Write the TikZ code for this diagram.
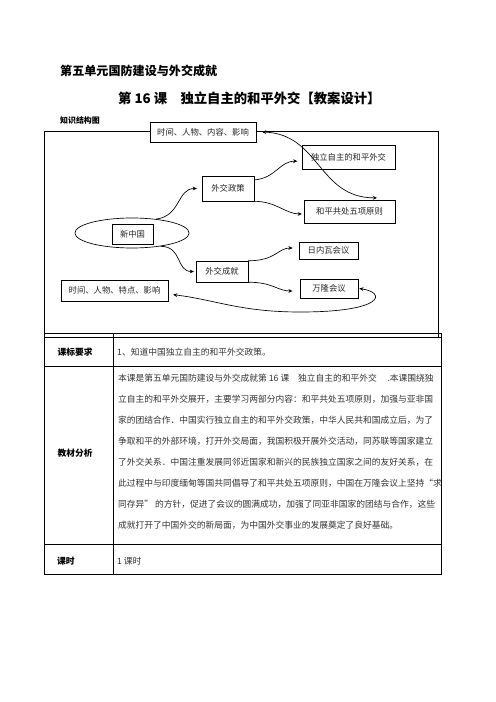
\documentclass[tikz,border=0pt]{standalone}
\usepackage{fontspec}
\setmainfont{Noto Sans CJK SC}
\usetikzlibrary{shapes.geometric,% ellipse round 新中国
arrows.meta}
\tikzset{every node/.style={font=\fontsize{10}{12}\selectfont},
  kbox/.style={draw,fill=white,line width=0.7pt,inner sep=0pt,text=black!85},
  lnk/.style={-{Stealth[length=5pt,width=4.5pt]},line width=0.8pt},
  dlnk/.style={{Stealth[length=5pt,width=4.5pt]}-{Stealth[length=5pt,width=4.5pt]},line width=0.8pt},
  headtxt/.style={inner sep=0pt,font=\bfseries\fontsize{10.5}{12}\selectfont},
  bodytxt/.style={anchor=west,inner sep=0pt,text=black!80,font=\fontsize{10.5}{12}\selectfont}}

\begin{document}
\begin{tikzpicture}[x=1.2pt,y=-1.2pt]
  \useasboundingbox (0,0) rectangle (496,702);
  % titles
  \node[anchor=west,inner sep=0pt,font=\bfseries\fontsize{14.5}{16}\selectfont] (unit) at (60,71) {第五单元国防建设与外交成就};
  \node[anchor=west,inner sep=0pt,font=\bfseries\fontsize{16}{18}\selectfont] (lesson) at (118,98) {第 16 课　独立自主的和平外交【教案设计】};
  \node[anchor=west,inner sep=0pt,font=\bfseries\fontsize{9.5}{11}\selectfont] (zsjg) at (60,120) {知识结构图};
  % frame of the chart
  \draw[line width=0.8pt] (44,131) rectangle (438,337);
  \node[kbox,minimum width=127pt,minimum height=24pt] (tnr) at (203,132) {时间、人物、内容、影响};
  \node[kbox,minimum width=112pt,minimum height=29pt] (dlzz) at (348.5,157) {独立自主的和平外交};
  \node[kbox,minimum width=62pt,minimum height=30pt] (wjzc) at (228,188.5) {外交政策};
  \node[kbox,minimum width=109pt,minimum height=28pt] (hpgc) at (349.5,211.5) {和平共处五项原则};
  \node[draw,ellipse,line width=0.8pt,minimum width=137pt,minimum height=36pt] (xq) at (132,233) {};
  \node[kbox,minimum width=49pt,minimum height=24pt] (xzg) at (132.5,234) {新中国};
  \node[kbox,minimum width=71pt,minimum height=20pt] (rnw) at (328.5,250.5) {日内瓦会议};
  \node[kbox,minimum width=62pt,minimum height=25pt] (wjcj) at (222,271.5) {外交成就};
  \node[kbox,minimum width=128pt,minimum height=25pt] (tdyx) at (114.5,290.5) {时间、人物、特点、影响};
  \node[kbox,minimum width=70pt,minimum height=23pt] (wl) at (329,288.5) {万隆会议};
  \coordinate (wlbot) at (300,312);
  % connectors
  \draw[lnk] (xq.30) .. controls +(25,-3) and +(-20,0) .. ([xshift=-6pt]wjzc.west);
  \draw[lnk] (xq.-25) .. controls +(22,0) and +(-18,0) .. ([xshift=-2.4pt]wjcj.west);
  \draw[lnk] (wjzc.18) .. controls +(22,-2) and +(-18,0) .. ([xshift=-5pt,yshift=-5pt]dlzz.west);
  \draw[lnk] (wjzc.south east) .. controls +(22,0) and +(-16,0) .. ([xshift=-2.4pt,yshift=-3pt]hpgc.west);
  \draw[lnk] (wjcj.north east) .. controls +(28,0) and +(-15,0) .. ([xshift=-7.2pt,yshift=3pt]rnw.west);
  \draw[lnk] (wjcj.south east) .. controls +(25,0) and +(-15,0) .. ([xshift=-8.4pt,yshift=-3pt]wl.west);
  \draw[dlnk] ([xshift=7pt]tnr.east) .. controls +(58,2) and +(-59,0) .. ([xshift=33pt,yshift=2pt]hpgc.north);
  \draw[dlnk] ([xshift=6pt,yshift=-5pt]tdyx.east) .. controls +(42,5) and +(-60,0) .. (wlbot)
    .. controls +(85,0) and +(27,4) .. ([xshift=1pt]wl.east);
  % table
  \draw[line width=0.8pt] (44,333) rectangle (441,574);
  \draw[line width=0.8pt] (44,337) -- (441,337);
  \draw[line width=0.8pt] (44,366) -- (441,366);
  \draw[line width=0.8pt] (44,544) -- (441,544);
  \draw[line width=0.8pt] (113,333) -- (113,574);
  \node[headtxt] (kbyq) at (75,352) {课标要求};
  \node[bodytxt] (yq1) at (117,352) {1、知道中国独立自主的和平外交政策。};
  \node[headtxt] (jcfx) at (75,453) {教材分析};
  \foreach \t [count=\i] in {%
    {本课是第五单元国防建设与外交成就第 16 课　独立自主的和平外交　 .本课围绕独},
    {立自主的和平外交展开，主要学习两部分内容：和平共处五项原则，加强与亚非国},
    {家的团结合作．中国实行独立自主的和平外交政策，中华人民共和国成立后，为了},
    {争取和平的外部环境，打开外交局面，我国积极开展外交活动，同苏联等国家建立},
    {了外交关系．中国注重发展同邻近国家和新兴的民族独立国家之间的友好关系，在},
    {此过程中与印度缅甸等国共同倡导了和平共处五项原则，中国在万隆会议上坚持“求},
    {同存异” 的方针，促进了会议的圆满成功，加强了同亚非国家的团结与合作，这些},
    {成就打开了中国外交的新局面，为中国外交事业的发展奠定了良好基础。}}
    \node[bodytxt] (jc\i) at (118,{357+21*\i}) {\t};
  \node[headtxt,anchor=west] (ks) at (57,561) {课时};
  \node[bodytxt] (ks1) at (117,561) {1 课时};
\end{tikzpicture}
\end{document}
